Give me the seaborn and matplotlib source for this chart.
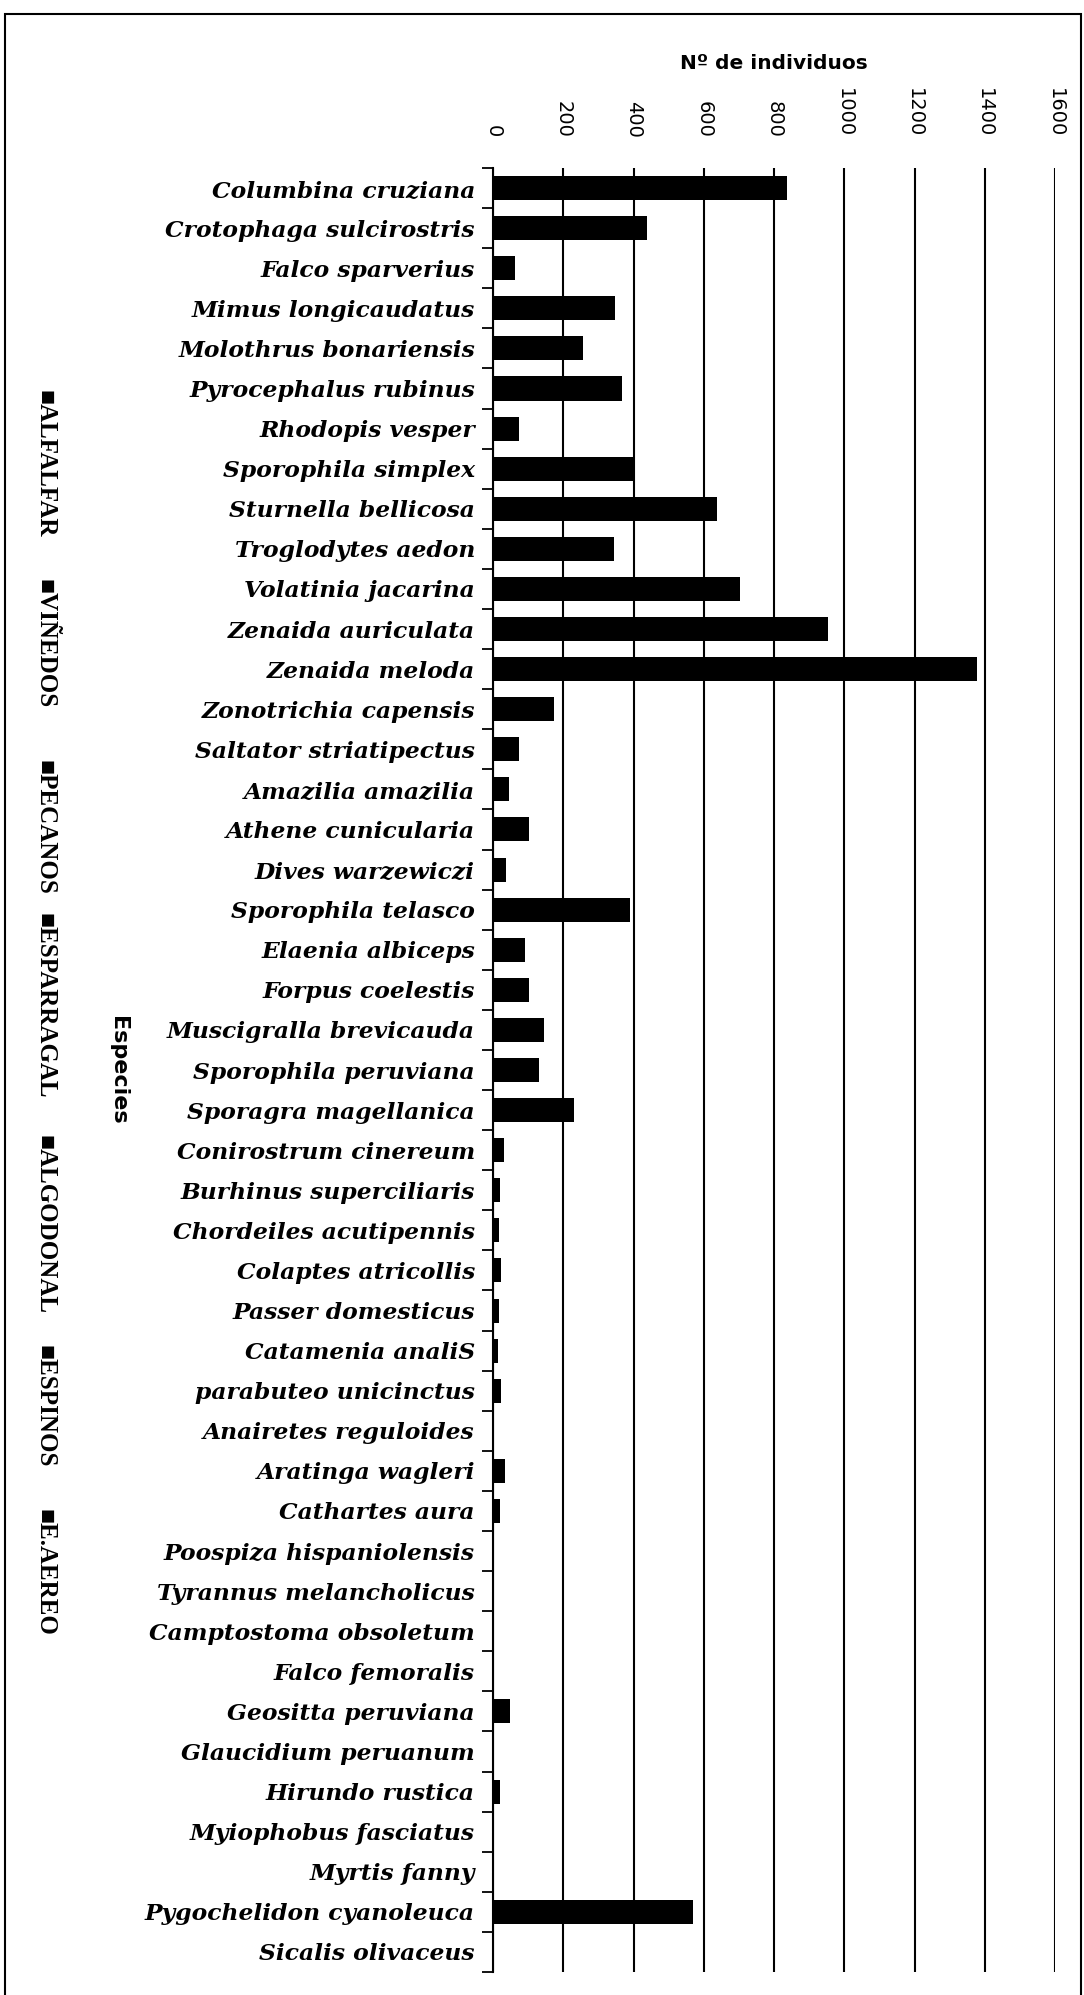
import numpy as np
import pandas as pd
import matplotlib
matplotlib.use('Agg')
import matplotlib.pyplot as plt
import seaborn as sns
from matplotlib.patches import Rectangle
from matplotlib.font_manager import FontProperties

especies = ['Columbina cruziana', 'Crotophaga sulcirostris', 'Falco sparverius',
            'Mimus longicaudatus', 'Molothrus bonariensis', 'Pyrocephalus rubinus',
            'Rhodopis vesper', 'Sporophila simplex', 'Sturnella bellicosa',
            'Troglodytes aedon', 'Volatinia jacarina', 'Zenaida auriculata',
            'Zenaida meloda', 'Zonotrichia capensis', 'Saltator striatipectus',
            'Amazilia amazilia', 'Athene cunicularia', 'Dives warzewiczi',
            'Sporophila telasco', 'Elaenia albiceps', 'Forpus coelestis',
            'Muscigralla brevicauda', 'Sporophila peruviana', 'Sporagra magellanica',
            'Conirostrum cinereum', 'Burhinus superciliaris', 'Chordeiles acutipennis',
            'Colaptes atricollis', 'Passer domesticus', 'Catamenia analiS',
            'parabuteo unicinctus', 'Anairetes reguloides', 'Aratinga wagleri',
            'Cathartes aura', 'Poospiza hispaniolensis', 'Tyrannus melancholicus',
            'Camptostoma obsoletum', 'Falco femoralis', 'Geositta peruviana',
            'Glaucidium peruanum', 'Hirundo rustica', 'Myiophobus fasciatus',
            'Myrtis fanny', 'Pygochelidon cyanoleuca', 'Sicalis olivaceus']

habitats = ['ALFALFAR', 'VIÑEDOS', 'PECANOS', 'ESPARRAGAL', 'ALGODONAL', 'ESPINOS', 'E.AEREO']

# values (all segments print black, so splits are approximate)
alfalfar = [610, 413, 63, 313, 221, 290, 75, 275, 600, 290, 623, 866, 1217, 162, 70,
            46, 91, 36, 330, 53, 91, 31, 110, 196, 20, 19, 17, 23, 17, 14,
            24, 2, 34, 21, 0, 0, 0, 0, 48, 0, 21, 0, 3, 540, 0]
vinedos = [200, 20, 0, 30, 30, 70, 0, 120, 30, 50, 70, 80, 150, 12, 4,
           0, 12, 0, 55, 37, 12, 110, 21, 34, 10, 0, 0, 0, 0, 0,
           0, 0, 0, 0, 0, 0, 0, 0, 0, 0, 0, 0, 0, 25, 0]
pecanos = [10, 3, 0, 3, 2, 5, 0, 5, 5, 3, 6, 6, 8, 0, 0,
           0, 0, 0, 3, 0, 0, 3, 0, 0, 0, 0, 0, 0, 0, 0,
           0, 0, 0, 0, 0, 0, 0, 0, 0, 0, 0, 0, 0, 3, 0]
esparragal = [10, 2, 0, 2, 2, 2, 0, 4, 3, 2, 4, 3, 3, 0, 0,
              0, 0, 0, 2, 0, 0, 2, 0, 0, 0, 0, 0, 0, 0, 0,
              0, 0, 0, 0, 0, 0, 0, 0, 0, 0, 0, 0, 0, 2, 0]
algodonal = [8, 0, 0, 0, 0, 0, 0, 0, 0, 0, 0, 0, 0, 0, 0,
             0, 0, 0, 0, 0, 0, 0, 0, 0, 0, 0, 0, 0, 0, 0,
             0, 0, 0, 0, 0, 0, 0, 0, 0, 0, 0, 0, 0, 0, 0]
espinos = [0, 0, 0, 0, 0, 0, 0, 0, 0, 0, 0, 0, 0, 0, 0,
           0, 0, 0, 0, 0, 0, 0, 0, 0, 0, 0, 0, 0, 0, 0,
           0, 0, 0, 0, 0, 0, 0, 0, 0, 0, 0, 0, 0, 0, 0]
e_aereo = [0, 0, 0, 0, 0, 0, 0, 0, 0, 0, 0, 0, 0, 0, 0,
           0, 0, 0, 0, 0, 0, 0, 0, 0, 0, 0, 0, 0, 0, 0,
           0, 0, 0, 0, 0, 0, 0, 0, 0, 0, 0, 0, 0, 0, 0]

# the scan turned every series black
colores = ['black'] * 7

sns.set_style('white')
plt.rcParams['font.family'] = ['DejaVu Sans']
plt.rcParams['text.color'] = 'black'
plt.rcParams['axes.labelcolor'] = 'black'
plt.rcParams['xtick.color'] = 'black'
plt.rcParams['ytick.color'] = 'black'

df = pd.DataFrame({'Especie': especies, 'ALFALFAR': alfalfar, 'VIÑEDOS': vinedos,
                   'PECANOS': pecanos, 'ESPARRAGAL': esparragal, 'ALGODONAL': algodonal,
                   'ESPINOS': espinos, 'E.AEREO': e_aereo})
acum = df[habitats].cumsum(axis=1)

fig = plt.figure(figsize=(10.84, 19.95), dpi=100)
ax = fig.add_axes([493 / 1084, 1 - 1972 / 1995, (1055 - 493) / 1084, (1972 - 168) / 1995])

# stacked bars: draw cumulative totals from the last series back to the first
for hab, col in reversed(list(zip(habitats, colores))):
    sns.barplot(x=acum[hab], y=df['Especie'], order=especies, color=col,
                width=0.6, orient='h', ax=ax, saturation=1, edgecolor='none')

ax.set_xlim(0, 1600)
ax.set_ylim(len(especies) - 0.5, -0.5)
ax.set_xticks(np.arange(0, 1601, 200))
ax.xaxis.tick_top()
ax.xaxis.set_label_position('top')
ax.tick_params(axis='x', length=0, pad=22, labelsize=14, labelrotation=270)
ax.grid(axis='x', color='black', linewidth=1.5)
ax.set_axisbelow(True)

ax.set_xlabel('Nº de individuos', fontsize=14.5, fontweight='bold')
ax.xaxis.set_label_coords(0.5, 1.055)

ax.tick_params(axis='y', which='major', length=0, pad=13)
ax.set_yticks(np.arange(-0.5, len(especies), 1), minor=True)
ax.tick_params(axis='y', which='minor', length=8, width=1.3, color='black', direction='out', left=True)
fp_especie = FontProperties(family='DejaVu Serif', weight='bold', style='italic', size=16.8)
for lab in ax.get_yticklabels():
    lab.set_fontproperties(fp_especie)

ax.set_ylabel('Especies', fontsize=16, fontweight='bold', rotation=270, va='center', ha='center')
ax.yaxis.set_label_coords(-0.667, 0.5)

for side in ['top', 'right', 'bottom']:
    ax.spines[side].set_visible(False)
ax.spines['left'].set_color('black')
ax.spines['left'].set_linewidth(1.5)

# rotated legend along the left edge
fp_leyenda = FontProperties(family=['Liberation Serif', 'DejaVu Sans'], weight='bold', size=18)
leyenda_y = [390, 579, 760, 913, 1135, 1345, 1509]
for hab, yy in zip(habitats, leyenda_y):
    fig.text(45 / 1084, 1 - yy / 1995, '■' + hab, rotation=270, ha='center', va='top',
             fontproperties=fp_leyenda, color='black')

fig.patches.append(Rectangle((5 / 1084, -0.01), (1081 - 5) / 1084, 1.01 - 14 / 1995,
                             transform=fig.transFigure, fill=False, edgecolor='black',
                             linewidth=1.5, clip_on=False))

fig.savefig('out.png', dpi=100, facecolor='white')
